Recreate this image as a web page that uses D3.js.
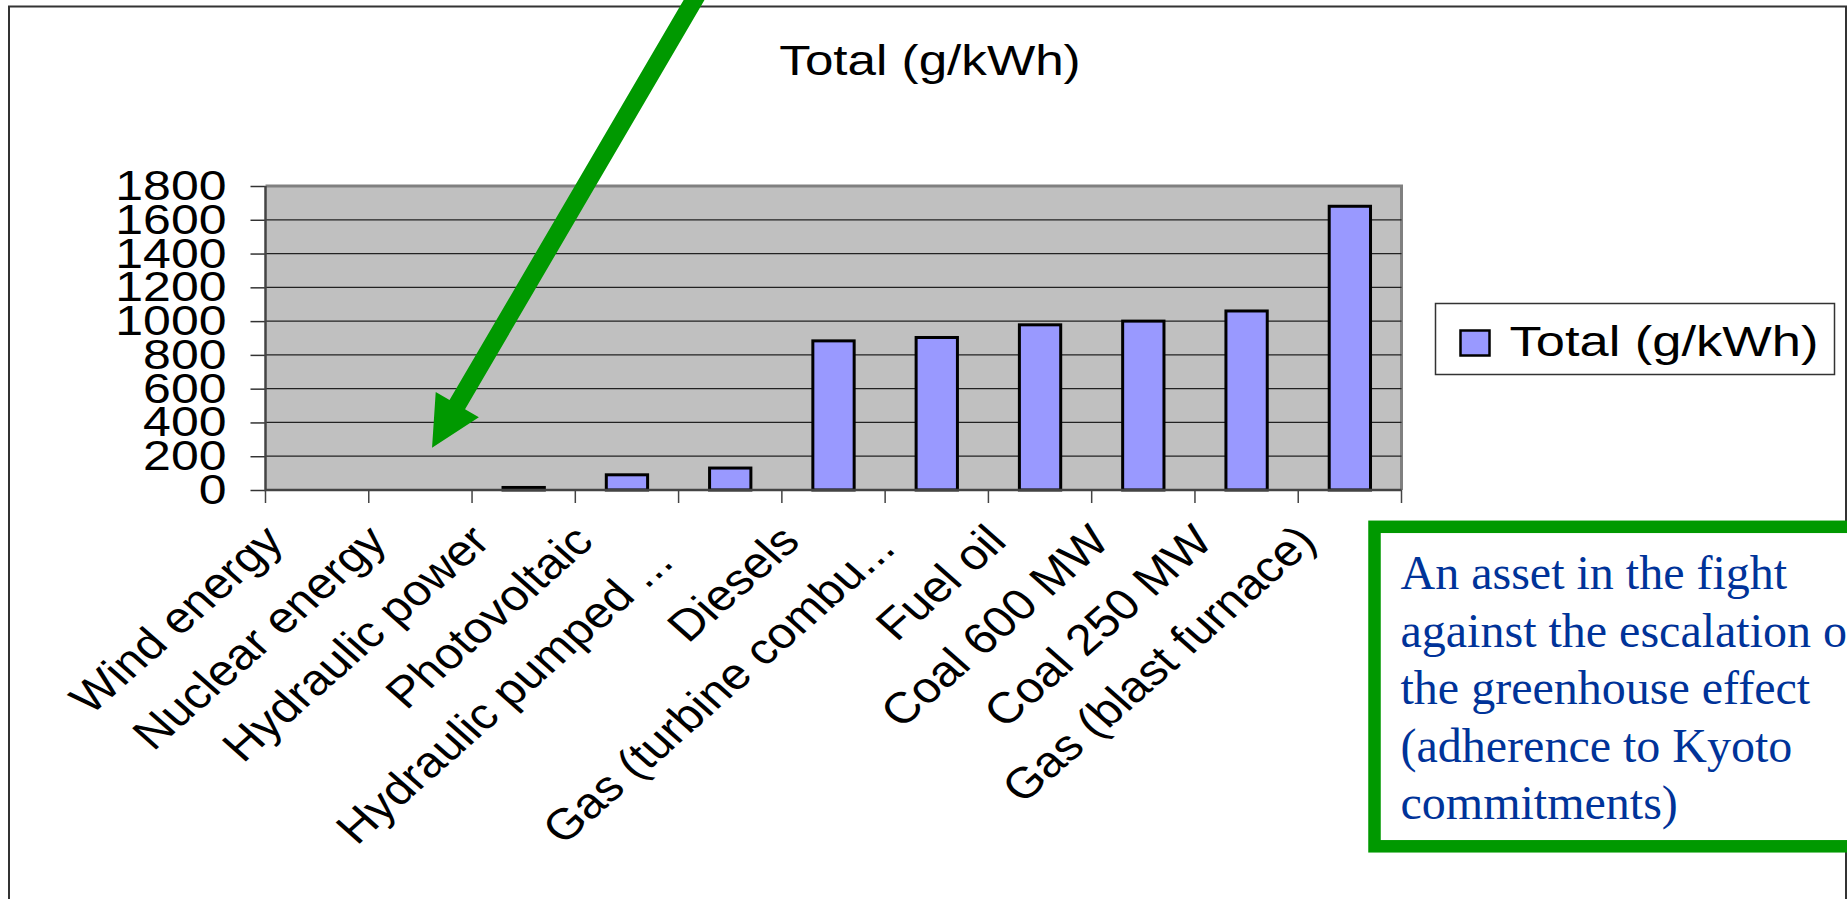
<!DOCTYPE html>
<html>
<head>
<meta charset="utf-8">
<script src="https://cdn.jsdelivr.net/npm/d3@7"></script>
<style>
  body { margin: 0; background: #fff; overflow: hidden; }
  svg { display: block; }
</style>
</head>
<body>
<div id="chart"></div>
<script>
// --- data ---
const categories = [
  "Wind energy", "Nuclear energy", "Hydraulic power", "Photovoltaic",
  "Hydraulic pumped ...", "Diesels", "Gas (turbine combu...", "Fuel oil",
  "Coal 600 MW", "Coal 250 MW", "Gas (blast furnace)"
];
const totals = [0, 0, 15, 90, 130, 883, 903, 978, 1000, 1060, 1680];
const yTicks = [0, 200, 400, 600, 800, 1000, 1200, 1400, 1600, 1800];
const seriesName = "Total (g/kWh)";
const noteLines = [
  "An asset in the fight",
  "against the escalation of",
  "the greenhouse effect",
  "(adherence to Kyoto",
  "commitments)"
];

const width = 1847, height = 899;
const sans = "'Liberation Sans', Arial, sans-serif";
const serif = "'Liberation Serif', 'Times New Roman', serif";
const K = 1.19;          // the chart picture is stretched sideways
const S = 1.13;          // same stretch, seen on the rotated labels
const fontSize = 42;
const green = "#009900";

const svg = d3.select("#chart").append("svg")
  .attr("width", width)
  .attr("height", height);

// outer frame (no bottom edge)
svg.append("path")
  .attr("d", `M9,899 V6.5 H1846 V899`)
  .attr("fill", "none")
  .attr("stroke", "#333")
  .attr("stroke-width", 2);

const plot = { left: 265.5, right: 1401.5, top: 186, bottom: 490 };

const x = d3.scaleBand()
  .domain(categories)
  .range([plot.left, plot.right])
  .padding(0);

const y = d3.scaleLinear()
  .domain([0, 1800])
  .range([plot.bottom, plot.top]);

// plot area
svg.append("rect")
  .attr("x", plot.left)
  .attr("y", plot.top)
  .attr("width", plot.right - plot.left)
  .attr("height", plot.bottom - plot.top)
  .attr("fill", "#c0c0c0");

svg.append("path")
  .attr("d", `M${plot.left},${plot.top} H${plot.right} V${plot.bottom}`)
  .attr("fill", "none")
  .attr("stroke", "#808080")
  .attr("stroke-width", 3);

// gridlines
svg.append("g")
  .selectAll("line")
  .data(yTicks.filter(t => t > 0 && t < 1800))
  .join("line")
  .attr("x1", plot.left)
  .attr("x2", plot.right)
  .attr("y1", d => y(d))
  .attr("y2", d => y(d))
  .attr("stroke", "#222")
  .attr("stroke-width", 1.3);

// y axis
const yAxis = svg.append("g")
  .attr("transform", `translate(${plot.left},0)`)
  .call(d3.axisLeft(y).tickValues(yTicks).tickSize(15).tickFormat(d3.format("d")));

yAxis.select(".domain").remove();
yAxis.selectAll(".tick line")
  .attr("stroke", "#333")
  .attr("stroke-width", 1.5);
yAxis.selectAll(".tick text")
  .attr("x", null)
  .attr("dy", null)
  .attr("transform", `translate(-39,13.5) scale(${K},1)`)
  .attr("text-anchor", "end")
  .attr("font-family", sans)
  .attr("font-size", fontSize)
  .attr("fill", "#000");

// x ticks on the band edges
const edges = categories.map(c => x(c)).concat([x.range()[1]]);
svg.append("g")
  .selectAll("line")
  .data(edges)
  .join("line")
  .attr("x1", d => d)
  .attr("x2", d => d)
  .attr("y1", y(0))
  .attr("y2", y(0) + 13)
  .attr("stroke", "#444")
  .attr("stroke-width", 1.5);

// bars
const bw = x.bandwidth();
svg.append("g")
  .selectAll("rect")
  .data(categories.map((c, i) => ({ c, v: totals[i] })))
  .join("rect")
  .attr("x", d => x(d.c) + bw * 0.3)
  .attr("width", bw * 0.4)
  .attr("y", d => y(d.v))
  .attr("height", d => y(0) - y(d.v))
  .attr("fill", "#9999ff")
  .attr("stroke", "#000")
  .attr("stroke-width", 3);

// axis lines
svg.append("path")
  .attr("d", `M${plot.left},${plot.top} V${plot.bottom} H${plot.right}`)
  .attr("fill", "none")
  .attr("stroke", "#444")
  .attr("stroke-width", 2.5);

// category labels at 45 degrees; cut labels start at the edge of a fixed box
const LBL_DX = -31.5, LBL_DY = 53.5, LBL_BOX = 428;
svg.append("g")
  .selectAll("text")
  .data(categories)
  .join("text")
  .attr("transform", d =>
    `translate(${x(d) + bw / 2 + LBL_DX},${y(0) + LBL_DY}) scale(${S},1) rotate(-45)`)
  .attr("x", d => d.endsWith("...") ? -LBL_BOX : 0)
  .attr("text-anchor", d => d.endsWith("...") ? "start" : "end")
  .attr("font-family", sans)
  .attr("font-size", 43.5)
  .attr("fill", "#000")
  .text(d => d);

// title
svg.append("text")
  .attr("transform", `translate(930,75) scale(${K},1)`)
  .attr("text-anchor", "middle")
  .attr("font-family", sans)
  .attr("font-size", 43)
  .attr("fill", "#000")
  .text(seriesName);

// legend
const legend = svg.append("g").attr("transform", "translate(1435.5,303.5)");
legend.append("rect")
  .attr("width", 399)
  .attr("height", 71)
  .attr("fill", "#fff")
  .attr("stroke", "#333")
  .attr("stroke-width", 1.5);
legend.append("rect")
  .attr("x", 25)
  .attr("y", 27)
  .attr("width", 29)
  .attr("height", 25)
  .attr("fill", "#9999ff")
  .attr("stroke", "#000")
  .attr("stroke-width", 2.5);
legend.append("text")
  .attr("transform", `translate(74,52) scale(1.22,1)`)
  .attr("font-family", sans)
  .attr("font-size", 43)
  .attr("fill", "#000")
  .text(seriesName);

// green arrow pointing at the low-carbon sources
const tip = [x("Hydraulic power") - 40, y(250)];
const u = [0.505, -0.863], n = [0.863, 0.505];
const headLen = 50, headHalf = 25, shaftHalf = 9, shaftLen = 560;
const at = (d, s) => [tip[0] + u[0] * d + n[0] * s, tip[1] + u[1] * d + n[1] * s];
const arrowPts = [
  tip,
  at(headLen, headHalf), at(headLen, shaftHalf), at(shaftLen, shaftHalf),
  at(shaftLen, -shaftHalf), at(headLen, -shaftHalf), at(headLen, -headHalf)
];
svg.append("path")
  .attr("d", d3.line()(arrowPts) + "Z")
  .attr("fill", green);

// note box
svg.append("rect")
  .attr("x", 1374.5)
  .attr("y", 526.8)
  .attr("width", 600)
  .attr("height", 319.5)
  .attr("fill", "#fff")
  .attr("stroke", green)
  .attr("stroke-width", 12.5);

svg.append("g")
  .selectAll("text")
  .data(noteLines)
  .join("text")
  .attr("x", 1400.5)
  .attr("y", (d, i) => 589 + i * 57.5)
  .attr("font-family", serif)
  .attr("font-size", 48)
  .attr("fill", "#003399")
  .text(d => d);
</script>
</body>
</html>
